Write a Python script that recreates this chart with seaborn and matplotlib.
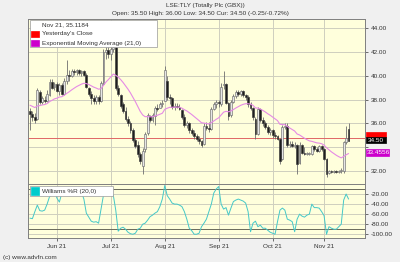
import numpy as np
import pandas as pd
import matplotlib
matplotlib.use("Agg")
import matplotlib.pyplot as plt
from matplotlib.patches import Rectangle
import seaborn as sns

sns.set_theme(style="white")
plt.rcParams['font.family'] = ['Liberation Sans', 'DejaVu Sans']

# ---------------- data ----------------
opens = [37.0, 36.8, 36.5, 36.4, 38.6, 37.8, 38.0, 37.9, 38.4, 39.5,
         39.1, 39.3, 38.7, 39.2, 38.5, 39.6, 40.1, 40.0, 40.4, 40.3,
         40.5, 40.2, 40.4, 40.1, 39.0, 38.5, 38.1, 37.9, 38.2, 37.9,
         39.3, 42.0, 42.2, 41.8, 42.3, 42.4, 39.0, 38.4, 37.6, 37.0,
         36.4, 36.0, 35.4, 34.6, 34.2, 33.4, 32.4, 33.8, 35.2, 36.6,
         36.3, 36.6, 37.3, 37.3, 37.6, 37.9, 39.6, 38.2, 38.1, 37.4,
         37.5, 37.4, 37.1, 36.5, 35.9, 36.0, 35.4, 35.2, 34.9, 34.7,
         34.5, 34.3, 35.8, 35.6, 35.5, 37.2, 37.6, 37.8, 37.6, 39.2,
         39.3, 37.7, 36.7, 37.8, 38.3, 38.6, 38.5, 38.7, 38.4, 38.2,
         37.6, 37.3, 36.4, 35.1, 37.2, 36.3, 36.0, 35.7, 35.3, 35.4,
         35.0, 34.9, 34.7, 33.0, 35.7, 35.8, 34.2, 34.3, 34.1, 34.2,
         32.7, 34.2, 33.5, 33.4, 33.4, 33.4, 34.1, 33.8, 33.7, 34.1,
         33.8, 33.0, 31.8, 32.0, 31.9, 32.0, 31.9, 32.0, 32.0, 34.4,
         35.5]
highs = [37.3, 37.0, 36.9, 39.0, 38.8, 38.3, 38.3, 38.8, 39.7, 39.7,
         39.5, 39.5, 39.4, 39.4, 39.8, 41.3, 40.5, 40.6, 40.6, 40.6,
         40.6, 40.5, 40.5, 40.2, 39.1, 38.7, 38.4, 38.4, 38.4, 39.6,
         42.3, 42.8, 43.0, 42.6, 43.5, 42.6, 39.2, 38.5, 37.8, 37.4,
         36.6, 36.2, 35.6, 34.8, 34.5, 33.6, 33.9, 35.3, 36.9, 36.7,
         36.9, 37.5, 37.6, 37.8, 38.0, 40.8, 40.0, 38.5, 38.2, 37.7,
         37.7, 37.6, 37.2, 36.8, 36.2, 36.1, 35.6, 35.4, 35.1, 34.9,
         34.6, 36.0, 36.1, 36.1, 37.4, 37.8, 38.0, 38.0, 39.4, 40.4,
         39.4, 37.8, 38.0, 38.5, 38.8, 38.8, 38.8, 38.8, 38.5, 38.4,
         37.8, 37.4, 36.5, 37.4, 37.3, 36.5, 36.2, 35.9, 35.6, 35.5,
         35.3, 35.0, 34.8, 35.9, 36.0, 36.0, 34.5, 34.5, 34.4, 34.3,
         34.4, 34.3, 34.0, 33.6, 33.6, 34.2, 34.2, 34.0, 34.2, 34.2,
         33.9, 33.1, 32.1, 32.1, 32.1, 32.1, 32.1, 32.2, 34.5, 35.8,
         36.0]
lows = [35.4, 36.2, 36.0, 36.3, 37.6, 37.6, 37.7, 37.8, 38.3, 38.9,
        38.8, 38.6, 38.4, 38.4, 38.4, 39.3, 39.6, 39.9, 40.1, 40.1,
        40.1, 40.0, 40.0, 39.0, 38.3, 37.6, 37.6, 37.6, 37.6, 37.8,
        39.2, 41.4, 41.5, 41.3, 42.0, 38.8, 38.3, 37.3, 36.9, 36.2,
        35.8, 35.2, 34.4, 33.9, 33.2, 32.6, 31.7, 33.6, 35.0, 36.1,
        36.1, 35.9, 37.0, 37.3, 37.4, 37.9, 38.0, 37.6, 37.2, 37.1,
        37.3, 37.1, 36.4, 35.7, 35.6, 35.2, 35.0, 34.7, 34.5, 34.3,
        34.0, 34.2, 35.4, 35.3, 35.4, 37.1, 37.3, 37.4, 37.5, 38.9,
        37.6, 36.3, 36.5, 37.7, 38.1, 38.3, 38.3, 38.2, 38.0, 37.4,
        37.1, 36.3, 34.7, 35.0, 36.1, 35.8, 35.5, 35.1, 35.0, 34.8,
        34.7, 34.6, 32.6, 32.9, 35.5, 34.0, 34.0, 34.0, 33.9, 31.7,
        32.6, 33.4, 33.3, 33.3, 33.3, 33.3, 33.7, 33.6, 33.6, 33.7,
        32.9, 31.5, 31.7, 31.8, 31.8, 31.8, 31.8, 31.8, 31.8, 34.3,
        34.5]
closes = [36.8, 36.5, 36.3, 38.8, 37.8, 38.1, 37.9, 38.5, 39.5, 39.0,
          39.3, 38.7, 39.2, 38.5, 39.6, 40.1, 40.0, 40.4, 40.3, 40.5,
          40.2, 40.4, 40.1, 39.1, 38.5, 38.1, 37.9, 38.2, 37.9, 39.4,
          42.0, 42.2, 41.8, 42.3, 42.4, 39.0, 38.5, 37.5, 37.0, 36.4,
          36.0, 35.4, 34.6, 34.1, 33.4, 32.8, 33.7, 35.1, 36.7, 36.3,
          36.7, 37.3, 37.2, 37.6, 37.7, 40.5, 38.2, 38.1, 37.4, 37.5,
          37.4, 37.2, 36.5, 35.9, 36.0, 35.4, 35.2, 34.9, 34.7, 34.5,
          34.2, 35.8, 35.6, 35.5, 37.2, 37.6, 37.8, 37.7, 39.1, 39.3,
          37.7, 36.6, 37.8, 38.3, 38.6, 38.5, 38.7, 38.4, 38.2, 37.6,
          37.3, 36.5, 35.1, 37.2, 36.3, 36.0, 35.7, 35.3, 35.4, 35.0,
          34.9, 34.7, 32.8, 35.7, 35.8, 34.2, 34.3, 34.1, 34.2, 32.6,
          34.2, 33.5, 33.4, 33.4, 33.5, 34.1, 33.8, 33.7, 34.1, 33.8,
          33.0, 31.7, 32.0, 31.9, 32.0, 31.9, 32.0, 32.1, 34.4, 34.75,
          34.5]
williams_r = [-68, -69, -55, -42, -53, -54, -52, -40, -25, -22,
              -15, -28, -36, -18, -15, -10, -14, -12, -15, -10,
              -12, -16, -30, -58, -66, -74, -76, -75, -78, -50,
              -22, -20, -18, -20, -22, -52, -94, -88, -86, -90,
              -96, -99, -100, -98, -90, -88, -80, -78, -72, -65,
              -62, -58, -55, -45, -30, -3, -23, -30, -38, -40,
              -40, -42, -45, -55, -70, -88, -93, -100, -100, -98,
              -85, -78, -70, -55, -40, -18, -10, -5, -40, -50,
              -47, -62, -48, -35, -32, -30, -32, -34, -38, -55,
              -95, -78, -74, -85, -82, -88, -88, -92, -96, -98,
              -100, -75, -52, -48, -52, -70, -72, -75, -95, -70,
              -60, -64, -66, -62, -60, -40, -47, -47, -48, -55,
              -63, -100, -85, -88, -90, -90, -85, -80, -32, -20,
              -30]
month_labels = ["Jun 21", "Jul 21", "Aug 21", "Sep 21", "Oct 21", "Nov 21"]
month_starts = ["2021-06-01", "2021-07-01", "2021-08-02", "2021-09-01",
                "2021-10-01", "2021-11-01"]
first_day = "2021-05-17"
prev_close = 34.75
ema_span = 21
ema_seed = 37.6
price_ticks = [32, 34, 36, 38, 40, 42, 44]
price_labels = ["32.00", "", "36.00", "38.00", "40.00", "42.00", "44.00"]
wr_ticks = [-20, -40, -60, -80, -100]
header1 = "LSE:TLY (Totally Plc (GBX))"
header2 = "Open: 35.50 High: 36.00 Low: 34.50 Cur: 34.50 (-0.25/-0.72%)"
legend_main = ["Nov 21, 35.1184", "Yesterday's Close", "Exponential Moving Average (21,0)"]
legend_wr = "Williams %R (20,0)"
footer = "(c) www.advfn.com"

# ---------------- derived ----------------
n = len(closes)
dates = pd.bdate_range(first_day, periods=n)
idx = np.arange(n)
alpha = 2.0 / (ema_span + 1)
ema = []
e = ema_seed
for c in closes:
    e = alpha * c + (1 - alpha) * e
    ema.append(e)
df = pd.DataFrame({"i": idx, "open": opens, "high": highs, "low": lows,
                   "close": closes, "ema": ema, "wr": williams_r})
tick_pos = [int(np.searchsorted(dates, pd.Timestamp(d))) for d in month_starts]

# ---------------- styling ----------------
W, H = 400, 262
BG = "#f0f0f0"
PANEL = "#ffffdc"
GRID = "#cfcfbf"
FS = 4.6

def fx(x):
    return x / W

def fy(y):
    return 1 - y / H

fig = plt.figure(figsize=(W / 100, H / 100), dpi=100, facecolor=BG)
L, R = 28, 365
ax = fig.add_axes([fx(L), fy(184), fx(R) - fx(L), fy(19) - fy(184)])
ax2 = fig.add_axes([fx(L), fy(238), fx(R) - fx(L), fy(184) - fy(238)], sharex=ax)
for a in (ax, ax2):
    a.set_facecolor(PANEL)
    for s in a.spines.values():
        s.set_color("#7f7f7f")
        s.set_linewidth(0.7)

xlim = (-0.8, 136.7)

# candles
up = df["close"] >= df["open"]
ax.vlines(df["i"], df["low"], df["high"], color="#6e6e6e", lw=0.6, zorder=3)
body_lo = np.minimum(df["open"], df["close"])
body_h = np.abs(df["close"] - df["open"]).clip(lower=0.06)
ax.bar(df["i"][up], body_h[up], bottom=body_lo[up], width=0.75,
       color="#e6e6e6", edgecolor="#6e6e6e", linewidth=0.45, zorder=4)
ax.bar(df["i"][~up], body_h[~up], bottom=body_lo[~up], width=0.75,
       color="#1e1e1e", edgecolor="#3a3a3a", linewidth=0.45, zorder=4)

ax.axhline(prev_close, color="#e06666", lw=0.7, zorder=2)
sns.lineplot(data=df, x="i", y="ema", ax=ax, color="#e58ae5", lw=0.8, zorder=5)

ax.set_ylim(30.89, 44.79)
ax.set_xlim(*xlim)
ax.yaxis.tick_right()
ax.set_yticks(price_ticks)
ax.set_yticklabels(price_labels)
ax.set_xticks(tick_pos)
ax.grid(True, color=GRID, lw=0.7)
ax.set_xlabel("")
ax.set_ylabel("")
ax.tick_params(axis="y", which="both", right=True, length=2.5, width=0.6,
               color="#555555", labelsize=FS, labelcolor="#333333", pad=1.5)
ax.tick_params(axis="x", bottom=False, labelbottom=False)

# Williams %R
sns.lineplot(data=df, x="i", y="wr", ax=ax2, color="#45c8c8", lw=0.7, zorder=5)
ax2.set_ylim(-107.5, 0)
ax2.set_xlim(*xlim)
ax2.yaxis.tick_right()
ax2.set_yticks(wr_ticks)
ax2.set_yticklabels([f"{v:.2f}" for v in wr_ticks])
ax2.grid(True, color=GRID, lw=0.7)
ax2.axhline(-10, color="#6a6a5a", lw=0.7, zorder=2)
ax2.axhline(-90, color="#6a6a5a", lw=0.7, zorder=2)
ax2.set_xticks(tick_pos)
ax2.set_xticklabels(month_labels)
ax2.set_xlabel("")
ax2.set_ylabel("")
ax2.tick_params(axis="y", right=True, length=2.5, width=0.6, color="#555555",
                labelsize=FS, labelcolor="#333333", pad=1.5)
ax2.tick_params(axis="x", bottom=True, length=2.5, width=0.6, color="#555555",
                labelsize=FS, labelcolor="#333333", pad=1.5)

# headers / footer
fig.text(fx(205), fy(6), header1, ha="center", va="center", fontsize=FS, color="#333333")
fig.text(fx(200), fy(14), header2, ha="center", va="center", fontsize=FS, color="#333333")
fig.text(fx(3), fy(257), footer, ha="left", va="center", fontsize=FS, color="#333333")

# main legend box
def box(x0, y0, x1, y1, fc, ec=None, lw=0.5, z=10):
    r = Rectangle((fx(x0), fy(y1)), fx(x1) - fx(x0), fy(y0) - fy(y1),
                  transform=fig.transFigure, facecolor=fc,
                  edgecolor=ec if ec else fc, linewidth=lw, zorder=z)
    fig.add_artist(r)

box(30, 20, 157, 47, "white", "#999999")
fig.text(fx(42), fy(25), legend_main[0], fontsize=FS, va="center", color="#333333", zorder=11)
box(31, 31, 39, 37, "#ff0000", z=11)
fig.text(fx(42), fy(34), legend_main[1], fontsize=FS, va="center", color="#333333", zorder=11)
box(31, 40, 39, 46, "#cc00cc", z=11)
fig.text(fx(42), fy(43), legend_main[2], fontsize=FS, va="center", color="#333333", zorder=11)

box(30, 186, 113, 196, "white", "#999999")
box(31, 187, 39, 195, "#00cccc", z=11)
fig.text(fx(42), fy(191), legend_wr, fontsize=FS, va="center", color="#333333", zorder=11)

# right-side value boxes
box(366, 132, 386, 137, "#ff0000", z=11)
box(366, 137, 386, 143, "#000000", z=12)
fig.text(fx(368), fy(140), f"{closes[-1]:.2f}", fontsize=FS, va="center", color="white", zorder=13)
box(366, 149, 389, 156, "#cc00cc", z=11)
fig.text(fx(367), fy(152.5), f"{ema[-1]:.4f}", fontsize=FS, va="center", color="white", zorder=13)

fig.savefig("out.png", dpi=100, facecolor=BG)
